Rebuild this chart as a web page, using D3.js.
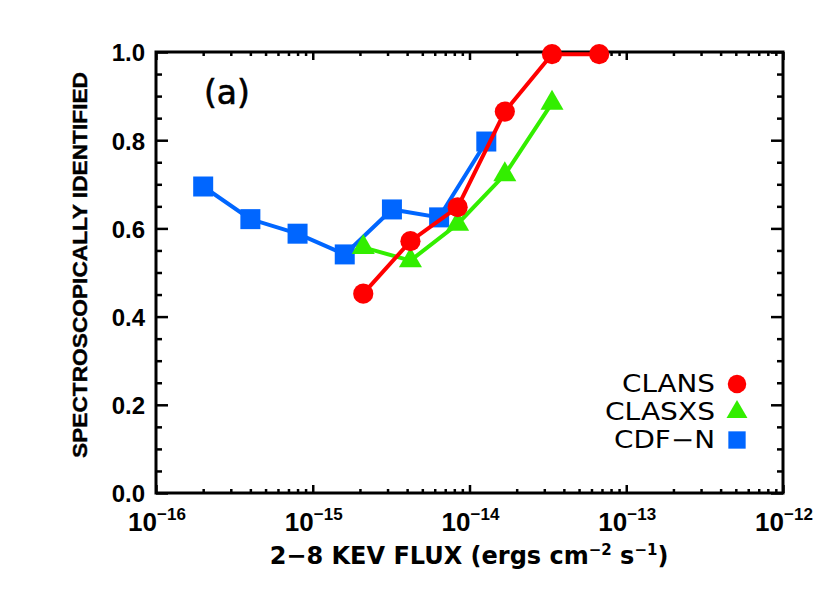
<!DOCTYPE html>
<html><head><meta charset="utf-8">
<script src="https://cdn.jsdelivr.net/npm/d3@7"></script>
<style>body{margin:0;background:#fff}svg{display:block}</style>
</head><body>
<svg id="c" width="830" height="593"></svg>
<script>
// ---- data ----
const cdfnFlux = [2e-16, 4e-16, 8e-16, 1.6e-15, 3.2e-15, 6.4e-15, 1.28e-14];
const cdfnFrac = [0.695, 0.621, 0.588, 0.541, 0.643, 0.625, 0.797];
const clansFlux = [2.1e-15, 4.2e-15, 8.4e-15, 1.68e-14, 3.36e-14, 6.72e-14];
const clansFrac = [0.452, 0.571, 0.648, 0.865, 0.995, 0.995];
const clasxsFlux = [2.1e-15, 4.2e-15, 8.4e-15, 1.68e-14, 3.36e-14];
const clasxsFrac = [0.557, 0.527, 0.610, 0.722, 0.884];
const xMajor = [1e-16, 1e-15, 1e-14, 1e-13, 1e-12];
const xMajorExp = ["−16", "−15", "−14", "−13", "−12"];
const yMajor = [0, 0.2, 0.4, 0.6, 0.8, 1.0];
const yMinor = d3.range(0, 1.0001, 0.05).filter(v => Math.abs(Math.round(v*5) - v*5) > 1e-6);
const seriesNames = ["CLANS", "CLASXS", "CDF−N"];
const colors = {clans: "#ff0000", clasxs: "#33ee00", cdfn: "#0066ff"};

const svg = d3.select("#c");
const L = 156, R = 783, T = 52, B = 493;
const x = d3.scaleLog().domain([1e-16, 1e-12]).range([L, R]);
const y = d3.scaleLinear().domain([0, 1]).range([B, T]);

const xMinor = [];
for (let e = -16; e < -12; e++) for (let m = 2; m <= 9; m++) xMinor.push(m * Math.pow(10, e));

function styleAxis(g) {
  g.select(".domain").remove();
  g.selectAll(".tick line").attr("stroke", "#000").attr("stroke-width", 2.5);
  g.selectAll(".tick text").remove();
}
// bottom
svg.append("g").attr("transform", `translate(0,${B})`).call(d3.axisBottom(x).tickValues(xMajor).tickSize(-8).tickFormat("")).call(styleAxis);
svg.append("g").attr("transform", `translate(0,${B})`).call(d3.axisBottom(x).tickValues(xMinor).tickSize(-4).tickFormat("")).call(styleAxis);
// top
svg.append("g").attr("transform", `translate(0,${T})`).call(d3.axisTop(x).tickValues(xMajor).tickSize(-8).tickFormat("")).call(styleAxis);
svg.append("g").attr("transform", `translate(0,${T})`).call(d3.axisTop(x).tickValues(xMinor).tickSize(-4).tickFormat("")).call(styleAxis);
// left
svg.append("g").attr("transform", `translate(${L},0)`).call(d3.axisLeft(y).tickValues(yMajor).tickSize(-12).tickFormat("")).call(styleAxis);
svg.append("g").attr("transform", `translate(${L},0)`).call(d3.axisLeft(y).tickValues(yMinor).tickSize(-6).tickFormat("")).call(styleAxis);
// right
svg.append("g").attr("transform", `translate(${R},0)`).call(d3.axisRight(y).tickValues(yMajor).tickSize(-12).tickFormat("")).call(styleAxis);
svg.append("g").attr("transform", `translate(${R},0)`).call(d3.axisRight(y).tickValues(yMinor).tickSize(-6).tickFormat("")).call(styleAxis);

svg.append("rect").attr("x", L).attr("y", T).attr("width", R - L).attr("height", B - T)
  .attr("fill", "none").attr("stroke", "#000").attr("stroke-width", 3);

const font = "'DejaVu Sans', sans-serif";
const lib = "'Liberation Sans', sans-serif";
// y tick labels
svg.append("g").selectAll("text").data(yMajor).join("text")
  .attr("x", 145).attr("y", d => y(d) + 3).attr("text-anchor", "end").attr("dominant-baseline", "middle")
  .attr("font-family", lib).attr("font-weight", "bold").attr("font-size", 24)
  .text(d => d.toFixed(1));
// x tick labels
const xl = svg.append("g").selectAll("text").data(xMajor).join("text")
  .attr("x", d => x(d) + 1).attr("y", 531).attr("text-anchor", "middle")
  .attr("font-family", lib).attr("font-weight", "bold").attr("font-size", 26);
xl.append("tspan").text("10");
xl.append("tspan").attr("dy", -11).attr("font-size", 17).text((d, i) => xMajorExp[i]);

// axis titles
const xt = svg.append("text").attr("x", 469).attr("y", 564).attr("text-anchor", "middle")
  .attr("font-family", font).attr("font-size", 24).attr("font-weight", "bold");
xt.append("tspan").text("2−8 KEV FLUX (ergs cm");
xt.append("tspan").attr("dy", -9).attr("font-size", 15).text("−2");
xt.append("tspan").attr("dy", 9).text(" s");
xt.append("tspan").attr("dy", -9).attr("font-size", 15).text("−1");
xt.append("tspan").attr("dy", 9).text(")");

svg.append("text").attr("transform", "translate(87,265) rotate(-90)").attr("text-anchor", "middle")
  .attr("font-family", lib).attr("font-weight", "bold").attr("font-size", 20)
  .attr("stroke", "#000").attr("stroke-width", 0.4)
  .attr("textLength", 386).attr("lengthAdjust", "spacingAndGlyphs")
  .text("SPECTROSCOPICALLY IDENTIFIED");

svg.append("text").attr("x", 227).attr("y", 104).attr("text-anchor", "middle")
  .attr("font-family", font).attr("font-size", 33).attr("stroke", "#000").attr("stroke-width", 0.6).text("(a)");

// series
const line = d3.line().x(d => x(d[0])).y(d => y(d[1]));
function series(fx, fy, color, sym, size) {
  const pts = fx.map((f, i) => [f, fy[i]]);
  svg.append("path").datum(pts).attr("d", line).attr("fill", "none").attr("stroke", color).attr("stroke-width", 4);
  svg.append("g").selectAll("path").data(pts).join("path")
    .attr("transform", d => `translate(${x(d[0])},${y(d[1])})`)
    .attr("d", d3.symbol().type(sym).size(size)).attr("fill", color);
}
series(cdfnFlux, cdfnFrac, colors.cdfn, d3.symbolSquare, 400);
series(clasxsFlux, clasxsFrac, colors.clasxs, d3.symbolTriangle, 230);
series(clansFlux, clansFrac, colors.clans, d3.symbolCircle, 320);

// legend
const legY = [392, 420, 448];
const legColors = [colors.clans, colors.clasxs, colors.cdfn];
const legSyms = [d3.symbolCircle, d3.symbolTriangle, d3.symbolSquare];
const legSizes = [270, 190, 300];
const legLens = [93, 110, 101];
seriesNames.forEach((n, i) => {
  svg.append("text").attr("x", 715).attr("y", legY[i]).attr("text-anchor", "end")
    .attr("font-family", font).attr("font-size", 24)
    .attr("textLength", legLens[i]).attr("lengthAdjust", "spacingAndGlyphs").text(n);
  svg.append("path").attr("transform", `translate(737,${legY[i] - 8})`)
    .attr("d", d3.symbol().type(legSyms[i]).size(legSizes[i])).attr("fill", legColors[i]);
});
</script>
</body></html>
